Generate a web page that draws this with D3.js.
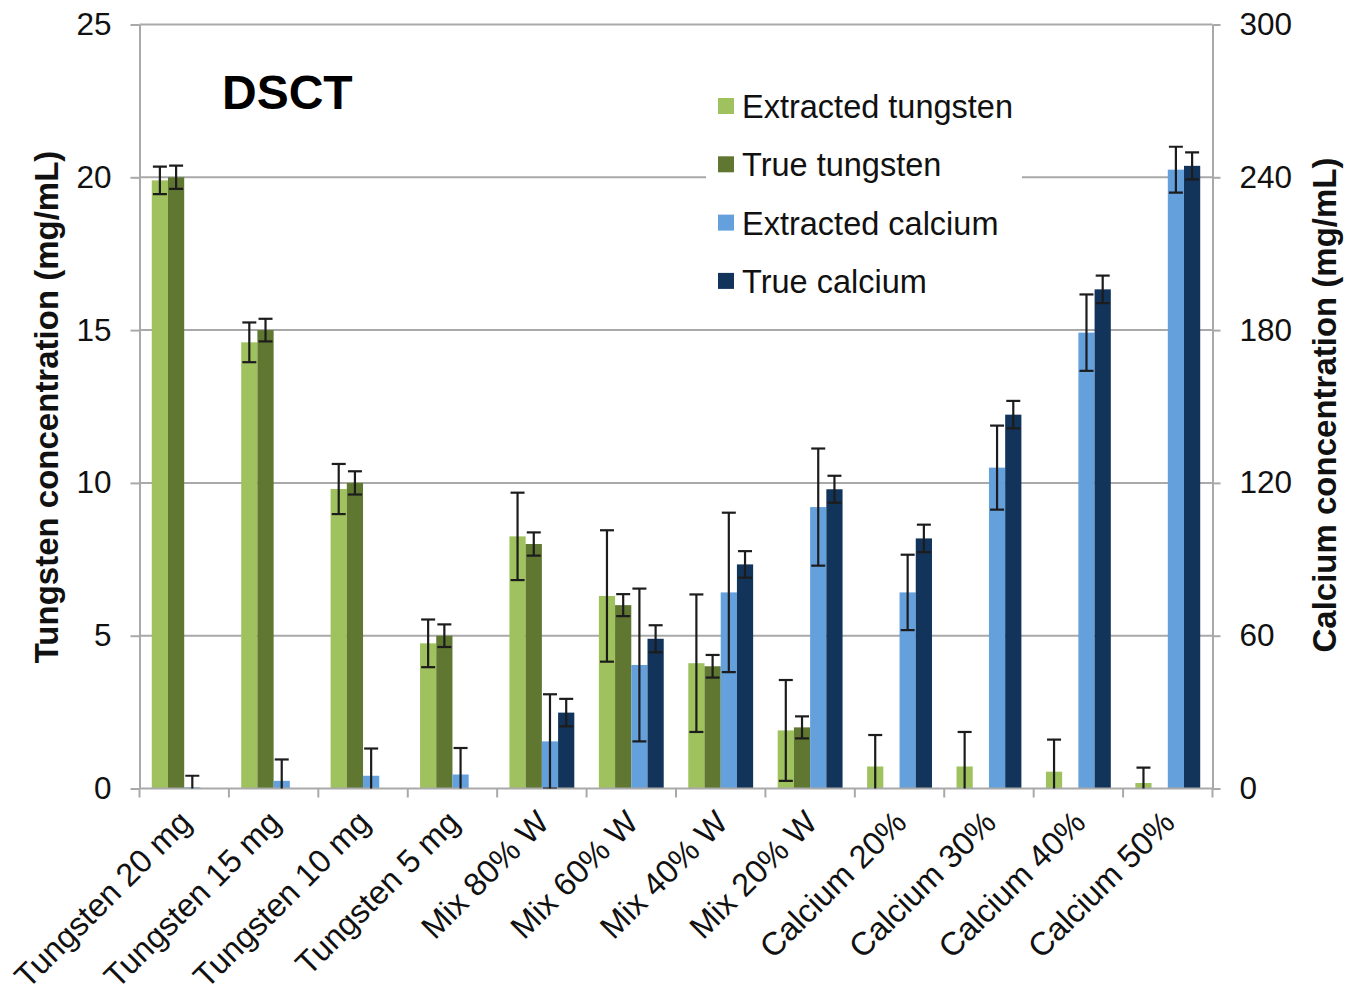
<!DOCTYPE html>
<html>
<head>
<meta charset="utf-8">
<script src="https://cdn.jsdelivr.net/npm/d3@7"></script>
<style>
  html, body { margin: 0; padding: 0; background: #fff; }
  svg { display: block; font-family: "Liberation Sans", Arial, Helvetica, sans-serif; }
</style>
</head>
<body>
<svg id="chart" width="1347" height="994"></svg>
<script>
// Sample groups along the x axis
const categories = ["Tungsten 20 mg", "Tungsten 15 mg", "Tungsten 10 mg", "Tungsten 5 mg",
  "Mix 80% W", "Mix 60% W", "Mix 40% W", "Mix 20% W",
  "Calcium 20%", "Calcium 30%", "Calcium 40%", "Calcium 50%"];

// Tungsten series (left axis, mg/mL) with symmetric error half-widths
const extractedTungsten    = [19.9, 14.6, 9.8, 4.75, 8.25, 6.3, 4.1, 1.9, 0.72, 0.72, 0.55, 0.18];
const extractedTungstenErr = [0.45, 0.65, 0.82, 0.78, 1.43, 2.15, 2.25, 1.65, 1.03, 1.13, 1.05, 0.5];
const trueTungsten         = [20, 15, 10, 5, 8, 6, 4, 2, 0, 0, 0, 0];
const trueTungstenErr      = [0.38, 0.37, 0.38, 0.37, 0.38, 0.36, 0.37, 0.36, 0, 0, 0, 0];

// Calcium series (right axis, mg/mL) with symmetric error half-widths
const extractedCalcium     = [0.5, 3, 5, 5.5, 18.5, 48.5, 77, 110.5, 77, 126, 179, 243];
const extractedCalciumErr  = [4.5, 8.4, 10.7, 10.4, 18.5, 30, 31.3, 23, 14.8, 16.5, 15, 9];
const trueCalcium          = [0, 0, 0, 0, 29.8, 58.8, 88, 117.5, 98.2, 146.8, 196, 244.5];
const trueCalciumErr       = [0, 0, 0, 0, 5.4, 5.3, 5.2, 5.3, 5.4, 5.4, 5.4, 5.3];

const tungstenTicks = [0, 5, 10, 15, 20, 25];
const calciumTicks  = [0, 60, 120, 180, 240, 300];

const seriesNames = ["Extracted tungsten", "True tungsten", "Extracted calcium", "True calcium"];
const seriesColors = ["#9fc25f", "#5f7731", "#64a0dc", "#12345a"];

const svg = d3.select("#chart");
const W = 1347, H = 994;
svg.append("rect").attr("width", W).attr("height", H).attr("fill", "#fff");

const plot = { left: 139.5, right: 1212.5, top: 24.5, bottom: 788.5 };
const gridColor = "#a9a9a9";
const textColor = "#111";

const x0 = d3.scaleBand().domain(categories).range([plot.left, plot.right]).paddingInner(0).paddingOuter(0);
const x1 = d3.scaleBand().domain(seriesNames).range([0, x0.bandwidth()]).paddingInner(0).paddingOuter(0.757);
const yW = d3.scaleLinear().domain([0, 25]).range([plot.bottom, plot.top]);
const yCa = d3.scaleLinear().domain([0, 300]).range([plot.bottom, plot.top]);

// Horizontal gridlines
svg.append("g").selectAll("line").data(tungstenTicks.slice(1)).join("line")
  .attr("x1", plot.left).attr("x2", plot.right)
  .attr("y1", d => yW(d)).attr("y2", d => yW(d))
  .attr("stroke", gridColor).attr("stroke-width", 2);

// Left axis
const leftAxis = svg.append("g").attr("transform", `translate(${plot.left},0)`)
  .call(d3.axisLeft(yW).tickValues(tungstenTicks).tickSize(9).tickSizeOuter(0).tickPadding(19));
// Right axis
const rightAxis = svg.append("g").attr("transform", `translate(${plot.right},0)`)
  .call(d3.axisRight(yCa).tickValues(calciumTicks).tickSize(8).tickSizeOuter(0).tickPadding(19));
[leftAxis, rightAxis].forEach(a => {
  a.select(".domain").attr("stroke", gridColor).attr("stroke-width", 2);
  a.selectAll(".tick line").attr("stroke", gridColor).attr("stroke-width", 2);
  a.selectAll(".tick text").attr("fill", textColor).attr("font-size", 31.5)
    .attr("font-family", "'Liberation Sans', Arial, sans-serif");
});

// Bar data rows
const series = [
  { name: seriesNames[0], vals: extractedTungsten, errs: extractedTungstenErr, y: yW },
  { name: seriesNames[1], vals: trueTungsten, errs: trueTungstenErr, y: yW },
  { name: seriesNames[2], vals: extractedCalcium, errs: extractedCalciumErr, y: yCa },
  { name: seriesNames[3], vals: trueCalcium, errs: trueCalciumErr, y: yCa }
];
const rows = [];
series.forEach((s, si) => {
  categories.forEach((c, ci) => {
    rows.push({ cat: c, name: s.name, v: s.vals[ci], e: s.errs[ci], y: s.y, color: seriesColors[si] });
  });
});

svg.append("g").selectAll("rect").data(rows.filter(d => d.v > 0)).join("rect")
  .attr("x", d => x0(d.cat) + x1(d.name))
  .attr("width", x1.bandwidth())
  .attr("y", d => d.y(d.v))
  .attr("height", d => plot.bottom - d.y(d.v))
  .attr("fill", d => d.color);

// Bottom axis line and category boundary ticks
const bottomAxis = svg.append("g");
bottomAxis.append("line").attr("x1", plot.left).attr("x2", plot.right)
  .attr("y1", plot.bottom).attr("y2", plot.bottom)
  .attr("stroke", gridColor).attr("stroke-width", 2);
const bounds = categories.map(c => x0(c)).concat([x0.range()[1]]);
bottomAxis.selectAll("line.tick").data(bounds).join("line").attr("class", "tick")
  .attr("x1", d => d).attr("x2", d => d)
  .attr("y1", plot.bottom).attr("y2", plot.bottom + 9)
  .attr("stroke", gridColor).attr("stroke-width", 2);

// Error bars, clipped to the plotting area
svg.append("clipPath").attr("id", "plotClip").append("rect")
  .attr("x", 0).attr("y", plot.top - 20).attr("width", W).attr("height", plot.bottom - plot.top + 20);
const errG = svg.append("g").attr("clip-path", "url(#plotClip)")
  .attr("stroke", "#1c1c1c").attr("stroke-width", 2.2).attr("fill", "none");
const cap = 7;
rows.filter(d => d.e > 0).forEach(d => {
  const cx = x0(d.cat) + x1(d.name) + x1.bandwidth() / 2;
  const yHi = d.y(d.v + d.e), yLo = d.y(d.v - d.e);
  errG.append("line").attr("x1", cx).attr("x2", cx).attr("y1", yHi).attr("y2", yLo);
  errG.append("line").attr("x1", cx - cap).attr("x2", cx + cap).attr("y1", yHi).attr("y2", yHi);
  errG.append("line").attr("x1", cx - cap).attr("x2", cx + cap).attr("y1", yLo).attr("y2", yLo);
});

// Rotated category labels
svg.append("g").selectAll("text").data(categories).join("text")
  .attr("transform", d => `translate(${x0(d) + x0.bandwidth() / 2 + 9},${plot.bottom + 36}) rotate(-45)`)
  .attr("text-anchor", "end")
  .attr("font-size", 32.5)
  .attr("fill", textColor)
  .text(d => d);

// Axis titles
svg.append("text")
  .attr("transform", `translate(58,407) rotate(-90)`)
  .attr("text-anchor", "middle").attr("font-size", 33).attr("font-weight", "bold")
  .attr("fill", textColor).text("Tungsten concentration (mg/mL)");
svg.append("text")
  .attr("transform", `translate(1336,405) rotate(-90)`)
  .attr("text-anchor", "middle").attr("font-size", 33).attr("font-weight", "bold")
  .attr("fill", textColor).text("Calcium concentration (mg/mL)");

// Panel title
svg.append("text").attr("x", 222).attr("y", 109)
  .attr("font-size", 48).attr("font-weight", "bold").attr("fill", "#000").text("DSCT");

// Legend
const legend = svg.append("g");
legend.append("rect").attr("x", 706).attr("y", 82).attr("width", 316).attr("height", 222).attr("fill", "#fff");
const legendItems = legend.selectAll("g").data(seriesNames).join("g")
  .attr("transform", (d, i) => `translate(718,${118 + i * 58.3})`);
legendItems.append("rect").attr("x", 0).attr("y", -20).attr("width", 16).attr("height", 16)
  .attr("fill", (d, i) => seriesColors[i]);
legendItems.append("text").attr("x", 24).attr("y", 0)
  .attr("font-size", 32.5).attr("fill", textColor).text(d => d);
</script>
</body>
</html>
